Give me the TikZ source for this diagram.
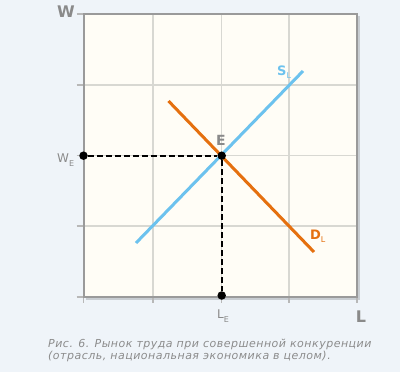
\documentclass[tikz,border=0pt]{standalone}
\usepackage{fontspec}
\setmainfont{DejaVu Sans}
\newfontfamily\capfont[LetterSpace=4.5]{DejaVu Sans}
\definecolor{pagebg}{HTML}{EFF4F9}
\definecolor{plotbg}{HTML}{FFFDF6}
\definecolor{gridc}{HTML}{D8D8D2}
\definecolor{framec}{HTML}{9A9A9A}
\definecolor{shadowc}{HTML}{C8CDD2}
\definecolor{supplyc}{HTML}{6CC2EE}
\definecolor{demandc}{HTML}{E5700F}
\definecolor{labelc}{HTML}{8A8A8A}
\definecolor{capc}{HTML}{8C8C8C}
\tikzset{
  gridline/.style={gridc, line width=1.2pt},
  tick/.style={framec!70, line width=1.2pt},
  curve/.style={line width=3pt},
  guide/.style={black, line width=1.8pt, dash pattern=on 6pt off 3pt},
  dot/.style={circle, fill=black, inner sep=0pt, minimum size=8.5pt},
  axlabel/.style={labelc, font=\fontsize{15}{15}\selectfont, inner sep=0pt},
  sublabel/.style={labelc, font=\fontsize{12}{12}\selectfont, inner sep=0pt},
  caption/.style={capc, font=\capfont\itshape\fontsize{11}{12}\selectfont, inner sep=0pt, anchor=west}
}
\begin{document}
\begin{tikzpicture}[x=1pt,y=-1pt]
\fill[pagebg] (0,0) rectangle (400,372);
\useasboundingbox (0,0) rectangle (400,372);
% shadow and plot area
\fill[shadowc] (85.5,16) rectangle (359.5,299.5);
\fill[plotbg] (83.5,14) rectangle (357,297);
% grid
\foreach \gx in {153,221.7,289} \draw[gridline] (\gx,14) -- (\gx,297);
\foreach \gy in {85,155.7,226} \draw[gridline] (83.5,\gy) -- (357,\gy);
% ticks
\foreach \gy in {14,85,155.7,226,297} \draw[tick] (76.5,\gy) -- (83.5,\gy);
\foreach \gx in {83.5,153,221.7,289,357} \draw[tick] (\gx,297) -- (\gx,303);
% frame
\draw[framec, line width=2pt] (83.5,14) rectangle (357,297);
% curves
\coordinate (s1) at (136,243);
\coordinate (s2) at (303,71);
\coordinate (d1) at (168.5,101);
\coordinate (d2) at (314,252);
\draw[curve, demandc] (d1) -- (d2);
\draw[curve, supplyc] (s1) -- (s2);
% points
\node[dot] (E) at (221.7,155.7) {};
\node[dot] (WE) at (83.5,155.7) {};
\node[dot] (LE) at (221.7,295.5) {};
\draw[guide] (WE) -- (E);
\draw[guide] (E) -- (LE);
% labels
\node[axlabel, font=\fontsize{16}{16}\selectfont\bfseries] (W) at (66,12) {W};
\node[axlabel, font=\fontsize{16}{16}\selectfont\bfseries] (L) at (361,317) {L};
\node[axlabel, font=\fontsize{14}{14}\selectfont\bfseries] (Elab) at (221,140) {E};
\node[axlabel, supplyc, font=\fontsize{13}{13}\selectfont\bfseries, anchor=base west] (SL) at (277,75) {S\raisebox{-3pt}{\fontsize{8}{8}\selectfont\mdseries L}};
\node[axlabel, demandc, font=\fontsize{13}{13}\selectfont\bfseries, anchor=base west] (DL) at (310,239) {D\raisebox{-3pt}{\fontsize{8}{8}\selectfont\mdseries L}};
\node[sublabel, anchor=base west] (WElab) at (57,162) {W\raisebox{-4pt}{\fontsize{8}{8}\selectfont E}};
\node[sublabel, anchor=base west] (LElab) at (217,318) {L\raisebox{-4pt}{\fontsize{8}{8}\selectfont E}};
% caption
\node[caption] (cap1) at (48,344) {Рис. 6. Рынок труда при совершенной конкуренции};
\node[caption] (cap2) at (48,356.5) {(отрасль, национальная экономика в целом).};
\end{tikzpicture}
\end{document}
